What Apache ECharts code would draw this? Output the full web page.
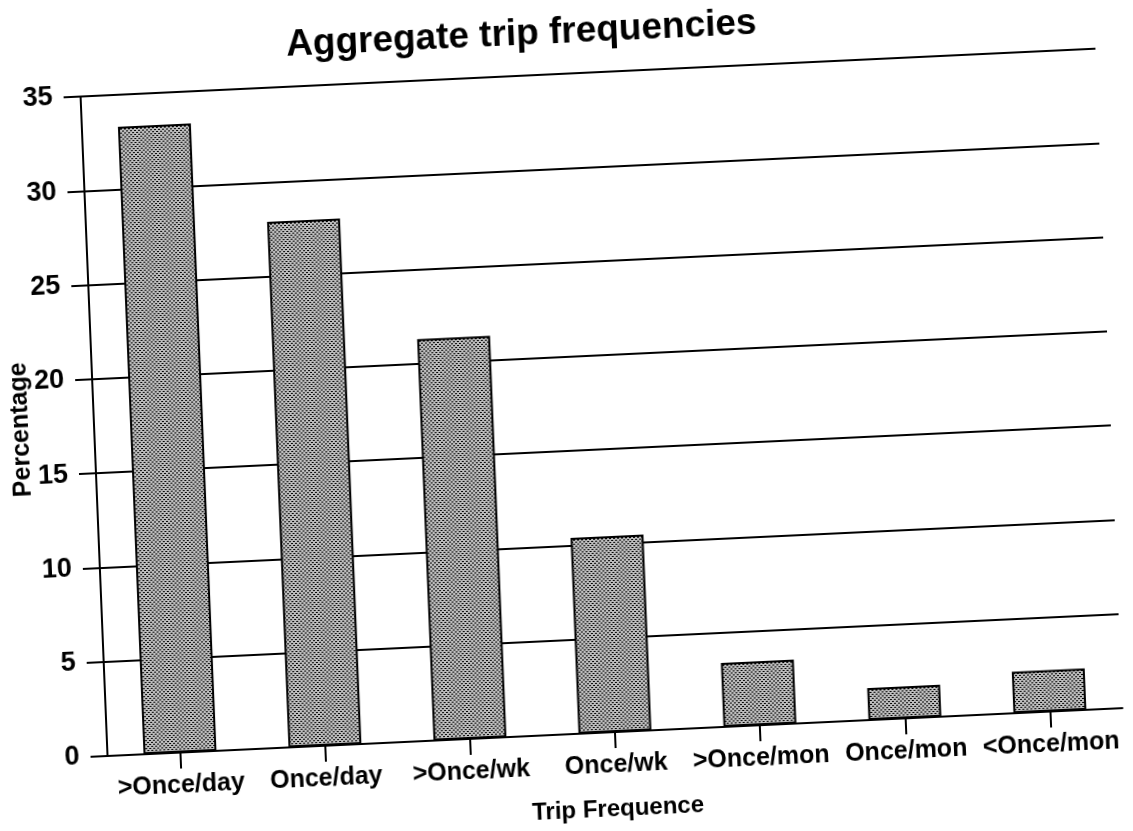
<!DOCTYPE html>
<html>
<head>
<meta charset="utf-8">
<title>Aggregate trip frequencies</title>
<script src="https://cdn.jsdelivr.net/npm/echarts@6/dist/echarts.min.js"></script>
<style>
  html, body { margin: 0; padding: 0; background: #fff; overflow: hidden; width: 1133px; height: 831px; }
  /* the printed page sits slightly askew */
  #chart {
    width: 1133px; height: 831px;
    transform-origin: 566.5px 415.5px;
    transform: matrix(0.99889, -0.04711, 0.04083, 0.99917, 0, 0);
  }
</style>
</head>
<body>
<div id="chart"></div>
<script>
// Share of trips by frequency band (%)
const categories = ['>Once/day', 'Once/day', '>Once/wk', 'Once/wk', '>Once/mon', 'Once/mon', '<Once/mon'];
const percentages = [33.3, 27.9, 21.3, 10.4, 3.4, 1.7, 2.2];

// Value axis range and step
const yMin = 0;
const yMax = 35;
const yStep = 5;

const FONT = '"Liberation Sans", Arial, Helvetica, sans-serif';

// Small halftone tile used as the bar fill
function halftoneTile() {
  const c = document.createElement('canvas');
  c.width = 4; c.height = 4;
  const g = c.getContext('2d');
  g.fillStyle = '#bebebe';
  g.fillRect(0, 0, 4, 4);
  g.fillStyle = '#000';
  [[0, 0], [1, 0], [2, 2], [3, 2]].forEach(([x, y]) => g.fillRect(x, y, 1, 1));
  return c;
}

const chart = echarts.init(document.getElementById('chart'), null, { renderer: 'canvas' });

chart.setOption({
  animation: false,
  title: {
    text: 'Aggregate trip frequencies',
    left: 532,
    top: 8,
    textAlign: 'center',
    textStyle: { color: '#000', fontFamily: FONT, fontSize: 37, fontWeight: 'bold', lineHeight: 40 }
  },
  grid: {
    left: 94, right: 23, top: 74, bottom: 97,
    outerBoundsMode: 'none'
  },
  xAxis: {
    type: 'category',
    data: categories,
    name: 'Trip Frequence',
    nameLocation: 'middle',
    nameGap: 64,
    nameMoveOverlap: false,
    nameTextStyle: { color: '#000', fontFamily: FONT, fontSize: 24, fontWeight: 'bold', lineHeight: 26 },
    axisLine: { show: true, lineStyle: { color: '#000', width: 2 } },
    axisTick: { show: true, alignWithLabel: true, length: 16, lineStyle: { color: '#000', width: 2 } },
    axisLabel: { color: '#000', fontFamily: FONT, fontSize: 25, fontWeight: 'bold', margin: 20, lineHeight: 26, interval: 0 },
    splitLine: { show: false }
  },
  yAxis: {
    type: 'value',
    min: yMin,
    max: yMax,
    interval: yStep,
    name: 'Percentage',
    nameLocation: 'middle',
    nameGap: 60,
    nameMoveOverlap: false,
    nameTextStyle: { color: '#000', fontFamily: FONT, fontSize: 25, fontWeight: 'bold' },
    axisLine: { show: true, lineStyle: { color: '#000', width: 2 } },
    axisTick: { show: true, length: 17, lineStyle: { color: '#000', width: 2 } },
    axisLabel: { color: '#000', fontFamily: FONT, fontSize: 27, fontWeight: 'bold', margin: 28 },
    splitLine: { show: true, lineStyle: { color: '#000', width: 2 } }
  },
  series: [{
    type: 'bar',
    data: percentages,
    barWidth: 73,
    itemStyle: {
      color: { image: halftoneTile(), repeat: 'repeat' },
      borderColor: '#000',
      borderWidth: 2
    }
  }]
});
</script>
</body>
</html>
